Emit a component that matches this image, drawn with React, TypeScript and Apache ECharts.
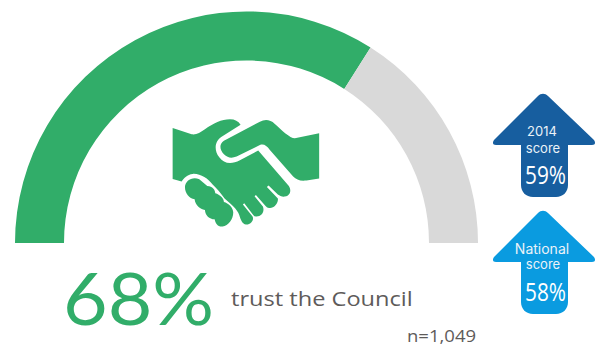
import React, { useEffect, useRef } from "react";
import * as echarts from "echarts";

const trustShare = [68, 32];
const trustNames = ["Trust", "Other"];
const headline = "68%";
const headlineCaption = "trust the Council";
const sampleNote = "n=1,049";
const comparisonLabels = [
  ["2014", "score"],
  ["National", "score"],
];
const comparisonValues = ["59%", "58%"];

const GREEN = "#31AD69";
const GREY = "#D9D9D9";
const INK = "#5E5B5A";
const ARROW_COLOURS = ["#175E9F", "#0A9BE0"];

// Handshake icon, drawn on a 3x grid
const handLeft =
  "M68 84 L125 103 C140 105 150 98 165 88 C190 70 215 58 240 58 C255 58 265 64 272 74 L215 110 C196 122 190 148 208 172 C222 192 245 194 270 181 L325 152 L417 258 C426 272 420 288 405 290 C396 291 390 288 384 284 L356 257 L351 261 L384 296 C386 310 372 326 358 324 C352 323 349 320 347 318 L318 285 L314 289 L339 320 C345 335 335 350 320 350 C314 350 312 348 310 345 L283 310 L279 314 L308 350 C314 362 300 376 288 374 C278 372 272 360 268 345 C262 328 242 312 224 296 C212 280 200 265 188 254 C175 236 150 220 128 222 C112 224 102 234 95 245 L68 237 Z";
const handRight =
  "M508 100 L435 115 C420 115 395 90 375 72 C360 58 345 58 330 65 L222 122 C208 130 208 150 222 163 C234 175 246 175 260 170 L330 135 C342 131 350 137 360 150 L430 230 C440 240 450 244 470 242 L508 236 Z";
const handKnuckles =
  "M105 262 C105 242 128 228 148 238 L172 258 C188 258 196 270 196 280 C210 284 222 296 222 306 C235 310 250 322 250 338 C250 358 235 378 218 380 C205 382 197 372 194 358 C178 358 166 346 165 330 C150 328 136 316 134 298 C118 296 105 280 105 262 Z";

// Upward arrow with its tip at the origin
const arrowOutline =
  "M-5 2 C-2 -1 2 -1 5 2 L51 46 C53 49 52 51 49 51 L25 51 L25 91 C25 98 20 103 13 103 L-10 103 C-17 103 -22 98 -22 91 L-22 51 L-47 51 C-50 51 -51 49 -49 46 Z";

echarts.graphic.registerShape("handLeft", echarts.graphic.extendPath(handLeft, {}));
echarts.graphic.registerShape("handRight", echarts.graphic.extendPath(handRight, {}));
echarts.graphic.registerShape("handKnuckles", echarts.graphic.extendPath(handKnuckles, {}));
echarts.graphic.registerShape("arrowUp", echarts.graphic.extendPath(arrowOutline, {}));

const arrowTipsY = [94, 211];

function buildArrow(i: number) {
  const tipY = arrowTipsY[i];
  const [first, second] = comparisonLabels[i];
  const textBase = { fill: "#EAF2F8", textAlign: "center", textVerticalAlign: "middle", fontFamily: "Inter, sans-serif" };
  return [
    { type: "arrowUp", x: 543, y: tipY, silent: true, style: { fill: ARROW_COLOURS[i] } },
    {
      type: "text", x: 542, y: tipY + 37,
      style: { ...textBase, text: first, fontSize: i === 0 ? 13 : 14 },
    },
    {
      type: "text", x: 543, y: tipY + (i === 0 ? 54 : 52.5),
      style: { ...textBase, text: second, fontSize: 13 },
    },
    {
      type: "text", x: 545.5, y: tipY + 80, scaleX: 0.8,
      style: { ...textBase, fill: "#FFFFFF", text: comparisonValues[i], fontSize: 26, fontFamily: "'Open Sans', sans-serif" },
    },
  ];
}

export default function App() {
  const ref = useRef<HTMLDivElement>(null);

  useEffect(() => {
    const chart = echarts.init(ref.current!, undefined, { renderer: "svg" });
    const handTransform = { x: 150, y: 100, scaleX: 1 / 3, scaleY: 1 / 3, silent: true };
    chart.setOption({
      animation: false,
      backgroundColor: "#FFFFFF",
      series: [
        {
          type: "pie",
          silent: true,
          startAngle: 180,
          endAngle: 0,
          center: [246.5, 243],
          radius: [182.5, 231.5],
          label: { show: false },
          labelLine: { show: false },
          data: trustShare.map((value, i) => ({
            value,
            name: trustNames[i],
            itemStyle: { color: i === 0 ? GREEN : GREY },
          })),
        },
      ],
      graphic: {
        elements: [
          { type: "handLeft", ...handTransform, style: { fill: GREEN } },
          { type: "handRight", ...handTransform, style: { fill: GREEN } },
          { type: "handKnuckles", ...handTransform, style: { fill: GREEN } },
          {
            type: "text", x: 63, y: 297, scaleX: 1.07,
            style: {
              text: headline, fill: GREEN, fontSize: 72, fontFamily: "Lato, sans-serif",
              textVerticalAlign: "middle",
            },
          },
          {
            type: "text", x: 231, y: 298, scaleX: 1.18,
            style: {
              text: headlineCaption, fill: INK, fontSize: 20, fontFamily: "'Open Sans', sans-serif",
              textVerticalAlign: "middle",
            },
          },
          {
            type: "text", x: 407, y: 335, scaleX: 1.09,
            style: {
              text: sampleNote, fill: INK, fontSize: 17, fontFamily: "'Open Sans', sans-serif",
              textVerticalAlign: "middle",
            },
          },
          ...buildArrow(0),
          ...buildArrow(1),
        ],
      },
    });
    return () => chart.dispose();
  }, []);

  return <div ref={ref} style={{ position: "fixed", left: 0, top: 0, width: 600, height: 349 }} />;
}
